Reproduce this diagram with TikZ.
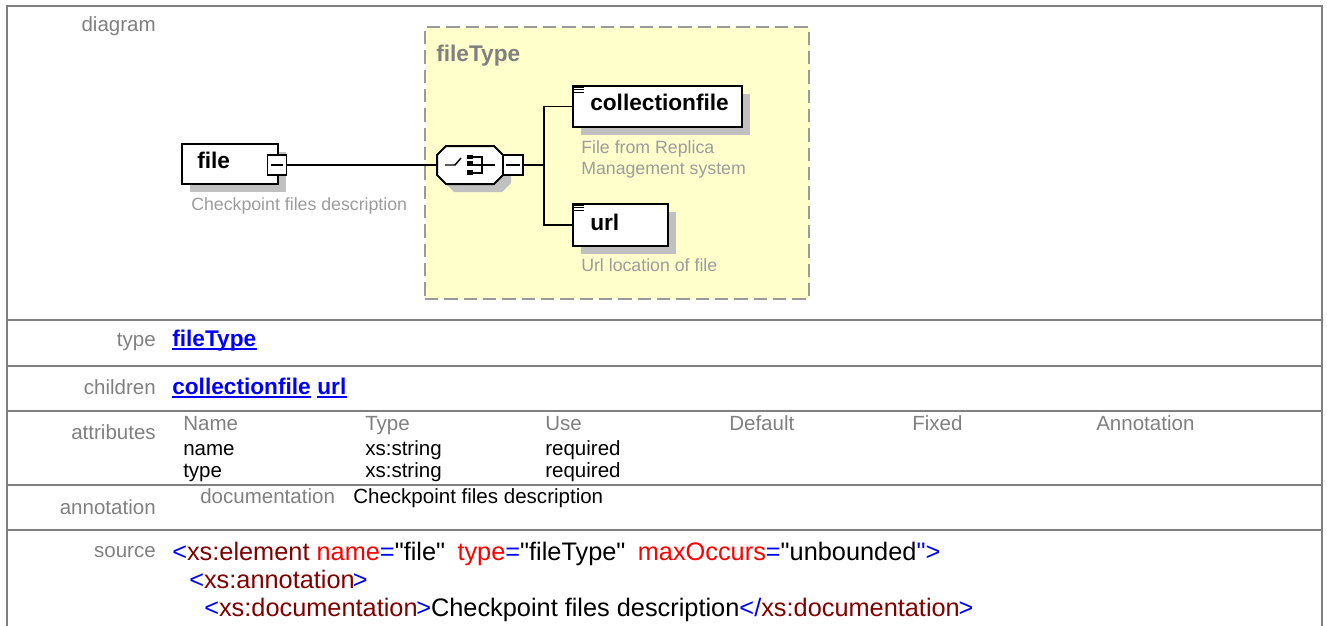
\documentclass[tikz,border=0pt]{standalone}
\usepackage{fontspec}
\setmainfont{Liberation Sans}[Ligatures=TeXOff]
\usetikzlibrary{positioning,shadows}
\definecolor{rulegray}{HTML}{808080}
\definecolor{labgray}{HTML}{808080}
\definecolor{docgray}{HTML}{9C9C9C}
\definecolor{shgray}{HTML}{C0C0C0}
\definecolor{typeyellow}{HTML}{FFFFCC}
\definecolor{dashgray}{HTML}{9A9A9A}
\definecolor{linkblue}{HTML}{0000FF}
\definecolor{tagred}{HTML}{800000}
\definecolor{attred}{HTML}{FF0000}
\newcommand{\tgb}[1]{\textcolor{linkblue}{#1}}
\newcommand{\tgn}[1]{\textcolor{tagred}{#1}}
\newcommand{\tga}[1]{\textcolor{attred}{#1}}
\begin{document}
\begin{tikzpicture}[x=0.75pt, y=-0.75pt,
  rule/.style = {draw=rulegray, line width=2pt},
  lbl/.style = {anchor=mid east, inner sep=0pt, text=labgray, font=\fontsize{15.4}{18}\selectfont},
  txt/.style = {anchor=mid west, inner sep=0pt, font=\fontsize{15.4}{18}\selectfont},
  hdr/.style = {txt, text=labgray},
  link/.style = {anchor=mid west, inner sep=0pt, text=linkblue, font=\fontsize{17}{20}\selectfont\bfseries},
  uline/.style = {draw=linkblue, line width=1.1pt},
  src/.style = {anchor=mid west, inner sep=0pt, font=\fontsize{19}{22}\selectfont},
  elem/.style = {draw, fill=white, line width=1.5pt, inner sep=0pt,
    drop shadow={shadow xshift=6pt, shadow yshift=-6pt, fill=shgray, opacity=1}},
  ename/.style = {anchor=mid west, inner sep=0pt, font=\fontsize{17}{20}\selectfont\bfseries},
  edoc/.style = {anchor=mid west, inner sep=0pt, text=docgray, font=\fontsize{13.3}{16}\selectfont},
  minus/.style = {draw, fill=white, line width=1.1pt, inner sep=0pt, minimum width=14.5pt, minimum height=15pt,
    path picture={\draw[line width=1.1pt] ([xshift=2.5pt]path picture bounding box.west) -- ([xshift=-2.5pt]path picture bounding box.east);}},
  conn/.style = {line width=1.2pt}]
\useasboundingbox (0,0) rectangle (1327,625);
\clip (0,0) rectangle (1327,625);

% table frame
\draw[rule] (7,700) -- (7,6) -- (1322,6) -- (1322,700);
\foreach \y in {320,366,411,485,530}
  \draw[rule] (7,\y) -- (1322,\y);

% row labels
\node[lbl] (ldiagram) at (156,28) {diagram};
\node[lbl] (ltype) at (156,343) {type};
\node[lbl] (lchildren) at (156,391) {children};
\node[lbl] (lattr) at (156,436) {attributes};
\node[lbl] (lannot) at (156,511) {annotation};
\node[lbl] (lsource) at (156,554) {source};

% diagram
\node[draw=dashgray, dashed, dash pattern=on 10pt off 4.5pt, line width=1.1pt, fill=typeyellow,
  minimum width=288pt, minimum height=204pt] (typebox) at (617,163) {};
\node[ename, text=labgray] (typename) at (436,58) {fileType};

\node[elem, minimum width=72pt, minimum height=30pt] (file) at (230,164) {};
\node[ename] (filetxt) at (197,165) {file};
\node[minus] (fmin) at (277,165) {};
\node[edoc] (filedoc) at (191,207) {Checkpoint files description};

\fill[shgray, shift={(8,8)}] (446,146) -- (494,146) -- (503,155) -- (503,175) -- (494,184) -- (446,184) -- (437,175) -- (437,155) -- cycle;
\draw[line width=1.5pt, fill=white] (446,146) -- (494,146) -- (503,155) -- (503,175) -- (494,184) -- (446,184) -- (437,175) -- (437,155) -- cycle;
\node[minimum width=49.5pt, minimum height=28.5pt, inner sep=0pt] (seq) at (470,165) {};
\draw[line width=1.1pt] (445,165) -- (455,165) -- (461,158);
\foreach \t/\b in {155/159, 161/166, 170/175}
  \fill (467,\t) rectangle (473,\b);
\draw[line width=1.1pt] (473,157) -- (482,157) -- (482,173) -- (473,173);
\draw[line width=1.1pt] (473,165) -- (495,165);
\node[minus, minimum width=15pt] (smin) at (513,165) {};
\coordinate (fork) at (544,165);

\node[elem, minimum width=126.75pt, minimum height=30.75pt] (cfile) at (657.5,106.5) {};
\node[ename] (cfiletxt) at (590,107) {collectionfile};
\node[edoc] (cfiledoc1) at (581,150) {File from Replica};
\node[edoc] (cfiledoc2) at (581,171) {Management system};

\node[elem, minimum width=71.25pt, minimum height=31.5pt] (url) at (620.5,225) {};
\node[ename] (urltxt) at (590,227) {url};
\node[edoc] (urldoc) at (581,268) {Url location of file};

\foreach \n in {cfile, url}
  \foreach \k in {0,1,2}
    \draw[line width=0.75pt] ([xshift=1.6pt, yshift=-1.8pt-\k*1.9pt]\n.north west) -- ++(7.5pt,0);

\draw[conn] (fmin.east) -- (seq.west);
\draw[conn] (smin.east) -- (fork);
\draw[conn] (cfile.west) -| (fork) |- (url.west);

% type and children
\node[link] (tlink) at (172,343) {fileType};
\draw[uline] ([yshift=-2pt]tlink.base west) -- ([yshift=-2pt]tlink.base east);
\node[link] (clink) at (172,391) {collectionfile};
\node[link, anchor=base west] (ulink) at ([xshift=4.5pt]clink.base east) {url};
\draw[uline] ([yshift=-2pt]clink.base west) -- ([yshift=-2pt]clink.base east);
\draw[uline] ([yshift=-2pt]ulink.base west) -- ([yshift=-2pt]ulink.base east);

% attributes
\foreach \h/\x in {Name/183, Type/365, Use/545, Default/729, Fixed/912, Annotation/1096}
  \node[hdr] (h\h) at (\x,427) {\h};
\node[txt] (a1name) at (183,452) {name};
\node[txt] (a1type) at (365,452) {xs:string};
\node[txt] (a1use) at (545,452) {required};
\node[txt] (a2name) at (183,474) {type};
\node[txt] (a2type) at (365,474) {xs:string};
\node[txt] (a2use) at (545,474) {required};

% annotation
\node[hdr] (doclbl) at (200,500) {documentation};
\node[txt] (doctxt) at (353,500) {Checkpoint files description};

% source
\node[src] (src1) at (172,557) {\tgb{<}\tgn{xs:element} \tga{name}\tgb{=}"file"\hspace{4pt} \tga{type}\tgb{=}"fileType"\hspace{4pt} \tga{maxOccurs}\tgb{=}"unbounded\tgb{">}};
\node[src] (src2) at (189,585) {\tgb{<}\tgn{xs:annotation}\kern-1.5pt\tgb{>}};
\node[src] (src3) at (204,613) {\tgb{<}\tgn{xs:documentation}\kern-1pt\tgb{>}Checkpoint files description\tgb{</}\tgn{xs:documentation}\kern-1pt\tgb{>}};
\end{tikzpicture}
\end{document}
